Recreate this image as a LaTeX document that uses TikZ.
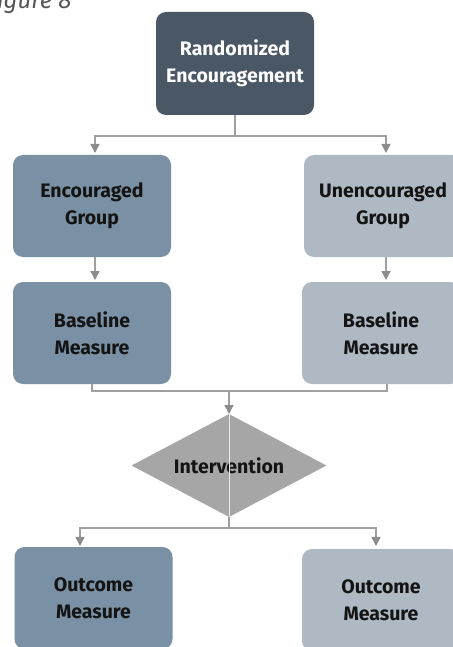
\documentclass[tikz,border=0pt]{standalone}
\usepackage{fontspec}
\setmainfont{Fira Sans}
\usetikzlibrary{shapes.geometric,arrows.meta}
\definecolor{topfill}{HTML}{4A5866}
\definecolor{darkfill}{HTML}{7A90A4}
\definecolor{lightfill}{HTML}{AFB9C3}
\definecolor{decfill}{HTML}{A6A6A6}
\definecolor{wire}{HTML}{A0A0A0}
\definecolor{tip}{HTML}{8C8C8C}
\definecolor{caption}{HTML}{555555}
\tikzset{
  box/.style={rectangle, rounded corners=10pt, minimum width=158pt, minimum height=102pt,
    inner sep=0pt, align=center, font=\bfseries\fontsize{19.5}{27}\selectfont, text=black!92},
  topbox/.style={box, fill=topfill, text=white, minimum height=103pt},
  darkbox/.style={box, fill=darkfill},
  lightbox/.style={box, fill=lightfill},
  decision/.style={diamond, fill=decfill, minimum width=195pt, minimum height=103pt, aspect=1.9,
    inner sep=0pt, font=\bfseries\fontsize{19.5}{27}\selectfont, text=black!92},
  wireline/.style={draw=wire, line width=1.3pt},
  arrowline/.style={wireline, -{Triangle[length=9pt,width=9pt,color=tip]}},
}
\begin{document}
\begin{tikzpicture}[x=1pt,y=-1pt]
  \useasboundingbox (0,0) rectangle (452,647);

  % caption, running off the left edge
  \node[anchor=base west, inner sep=0pt, text=caption, font=\itshape\fontsize{24}{28}\selectfont] (cap) at (-14,9) {Figure 8};

  % boxes
  \node[topbox]   (rand)  at (235,63.5) {Randomized\\Encouragement};
  \node[darkbox]  (encg)  at (92,206)   {Encouraged\\Group};
  \node[lightbox] (unecg) at (383,206)  {Unencouraged\\Group};
  \node[darkbox]  (basl)  at (92,333)   {Baseline\\Measure};
  \node[lightbox] (basr)  at (381,333)  {Baseline\\Measure};
  \node[decision] (int)   at (229,465.5) {Intervention};
  \node[darkbox]  (outl)  at (93.5,598) {Outcome\\Measure};
  \node[lightbox] (outr)  at (381,600)  {Outcome\\Measure};

  % faint line through the decision
  \draw[draw=white!75!decfill, line width=1pt] (int.north) -- (int.south);

  % junction points and arrow ends
  \coordinate (j1) at (235,136);
  \coordinate (e1) at (95,153);
  \coordinate (e2) at (386,153);
  \coordinate (e3) at (95,280);
  \coordinate (e4) at (386,280);
  \coordinate (j2l) at (92,391);
  \coordinate (j2r) at (387,391);
  \coordinate (j2) at (229,391);
  \coordinate (e5) at (229,414);
  \coordinate (j3) at (229,528);
  \coordinate (e6) at (80,546);
  \coordinate (e7) at (376,546);

  % split below the randomisation
  \draw[wireline] (rand.south) -- (j1);
  \draw[arrowline] (j1) -| (e1);
  \draw[arrowline] (j1) -| (e2);

  % group to baseline
  \draw[arrowline] (e1 |- encg.south) -- (e3);
  \draw[arrowline] (e2 |- unecg.south) -- (e4);

  % merge into the intervention
  \draw[wireline] (j2l |- basl.south) -- (j2l) -- (j2r) -- (j2r |- basr.south);
  \draw[arrowline] (j2) -- (e5);

  % split to outcomes
  \draw[wireline] (int.south) -- (j3);
  \draw[arrowline] (j3) -| (e6);
  \draw[arrowline] (j3) -| (e7);
\end{tikzpicture}
\end{document}
